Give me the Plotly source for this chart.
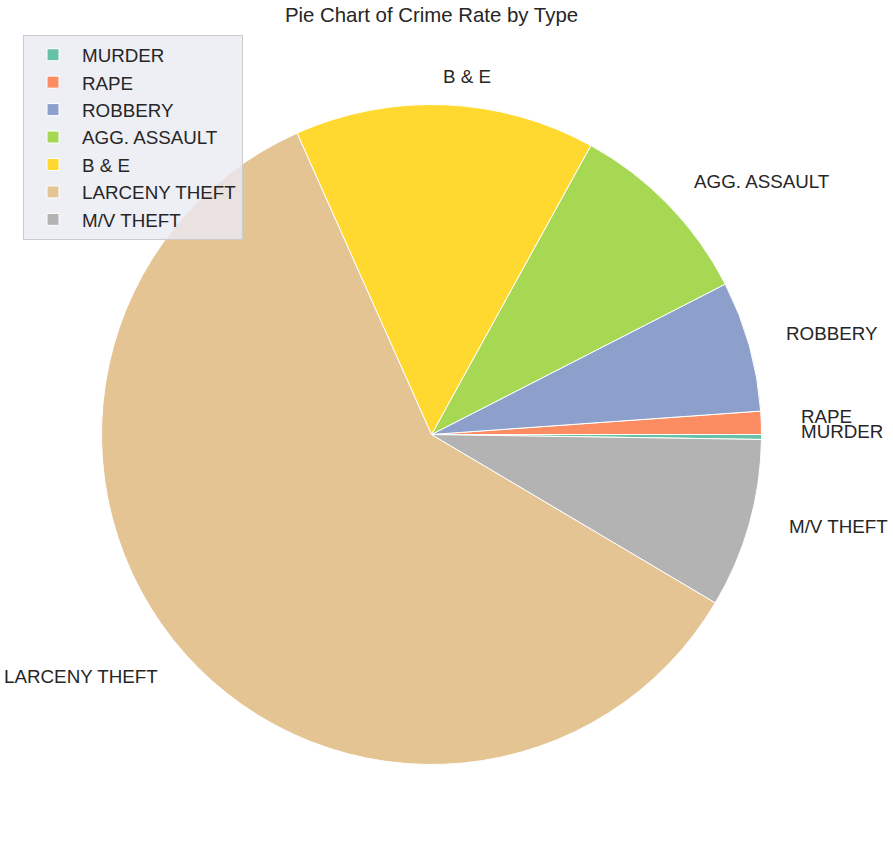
import math
import plotly.graph_objects as go

# ---- data ----
labels = ["MURDER", "RAPE", "ROBBERY", "AGG. ASSAULT", "B & E", "LARCENY THEFT", "M/V THEFT"]
values = [0.24, 1.13, 6.40, 9.45, 14.70, 59.80, 8.28]
colors = ["#66c2a5", "#fc8d62", "#8da0cb", "#a6d854", "#ffd92f", "#e5c494", "#b3b3b3"]
title_text = "Pie Chart of Crime Rate by Type"

# ---- layout geometry (pixels) ----
W, H = 893, 856
cx, cy = 431.5, 434.5
r = 330.0
rx_lab, ry_lab = 334.5 * 1.1, 325.5 * 1.1
TEXT = "#262626"
FONT = "Liberation Sans, Arial, sans-serif"
FS = 18.8

fig = go.Figure(go.Pie(
    labels=labels,
    values=values,
    marker=dict(colors=colors, line=dict(color="white", width=1)),
    sort=False,
    direction="counterclockwise",
    rotation=90,
    textinfo="none",
    hoverinfo="label+percent",
    domain=dict(x=[(cx - r) / W, (cx + r) / W], y=[(H - cy - r) / H, (H - cy + r) / H]),
))

# outside labels at 1.1 radius, like matplotlib
total = sum(values)
cum = 0.0
annotations = []
for lab, v in zip(labels, values):
    mid = (cum + v / 2) / total * 2 * math.pi
    cum += v
    c, s = math.cos(mid), math.sin(mid)
    px = cx + rx_lab * c
    py = cy - ry_lab * s
    annotations.append(dict(
        x=px / W, y=1 - py / H, xref="paper", yref="paper",
        text=lab, showarrow=False,
        xanchor="left" if c >= 0 else "right", yanchor="middle",
        font=dict(family=FONT, size=FS, color=TEXT),
    ))

fig.update_layout(
    width=W, height=H,
    margin=dict(l=0, r=0, t=0, b=0),
    paper_bgcolor="white",
    plot_bgcolor="white",
    font=dict(family=FONT, color=TEXT),
    title=dict(text=title_text, x=cx / W, xanchor="center", y=1 - 15 / H, yanchor="middle",
               xref="paper", yref="container",
               font=dict(family=FONT, size=20.4, color=TEXT)),
    legend=dict(
        x=23 / W, y=1 - 35 / H, xanchor="left", yanchor="top",
        bgcolor="rgba(234,234,242,0.8)", bordercolor="#cccccc", borderwidth=1,
        font=dict(family=FONT, size=FS, color=TEXT),
        traceorder="normal",
        itemwidth=48,
    ),
    annotations=annotations,
)

fig.write_html("out.html")
